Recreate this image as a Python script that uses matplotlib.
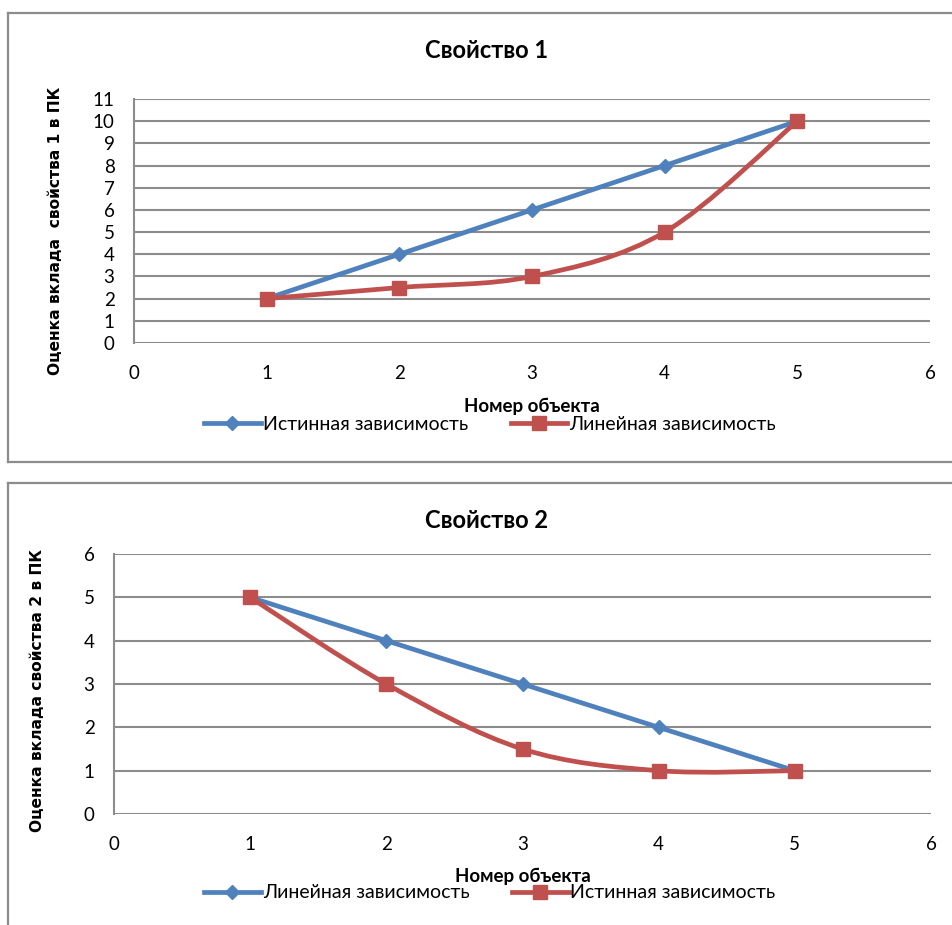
import numpy as np
import matplotlib
matplotlib.use('Agg')
import matplotlib.pyplot as plt
from matplotlib.path import Path
from matplotlib.patches import PathPatch
from matplotlib.lines import Line2D

# data
objects = [1, 2, 3, 4, 5]

title_1 = 'Свойство 1'
ylabel_1 = 'Оценка вклада  свойства 1 в ПК'
true_1 = [2, 4, 6, 8, 10]          # Истинная зависимость (straight)
linear_1 = [2, 2.5, 3, 5, 10]      # Линейная зависимость (smoothed)
names_1 = ['Истинная зависимость', 'Линейная зависимость']

title_2 = 'Свойство 2'
ylabel_2 = 'Оценка вклада свойства 2 в ПК'
linear_2 = [5, 4, 3, 2, 1]         # Линейная зависимость (straight)
true_2 = [5, 3, 1.5, 1, 1]         # Истинная зависимость (smoothed)
names_2 = ['Линейная зависимость', 'Истинная зависимость']

xlabel = 'Номер объекта'

BLUE = '#4F81BD'
RED = '#C0504D'
GRID = '#8C8C8C'
narrow = ['Lato', 'DejaVu Sans']

W, H = 953, 925
fig = plt.figure(figsize=(W / 100, H / 100), dpi=100)


def fx(px):
    return px / W


def fy(py):
    return 1 - py / H


def smooth_path(x, y):
    # Excel-like smoothed line: Catmull-Rom turned into cubic Bezier pieces
    P = np.column_stack([x, y]).astype(float)
    n = len(P)
    verts = [P[0]]
    codes = [Path.MOVETO]
    for i in range(n - 1):
        p_prev = P[i - 1] if i > 0 else P[i]
        p_next = P[i + 2] if i + 2 < n else P[i + 1]
        c1 = P[i] + (P[i + 1] - p_prev) / 6
        c2 = P[i + 1] - (p_next - P[i]) / 6
        verts += [c1, c2, P[i + 1]]
        codes += [Path.CURVE4] * 3
    return Path(verts, codes)


def frame(top, bottom):
    c = dict(color=GRID, lw=1.6, transform=fig.transFigure)
    fig.add_artist(Line2D([fx(8), fx(8)], [fy(top), fy(bottom)], **c))
    fig.add_artist(Line2D([fx(8), 1.01], [fy(top), fy(top)], **c))
    if bottom < H:
        fig.add_artist(Line2D([fx(8), 1.01], [fy(bottom), fy(bottom)], **c))


def chart(box, ymax, straight, smooth, names, title, ylabel,
          title_y, ylab_x, ylab_y, xlab_xy, leg_y):
    x0, x1, ytop, ybot = box
    ax = fig.add_axes([fx(x0), fy(ybot), fx(x1) - fx(x0), fy(ytop) - fy(ybot)])
    ax.set_xlim(0, 6)
    ax.set_ylim(0, ymax)
    ax.set_xticks(range(0, 7))
    ax.set_yticks(range(0, ymax + 1))
    ax.grid(axis='y', color=GRID, lw=1.5)
    ax.set_axisbelow(True)
    for s in ['top', 'right', 'bottom']:
        ax.spines[s].set_visible(False)
    ax.spines['left'].set_color(GRID)
    ax.spines['left'].set_linewidth(1.5)
    ax.tick_params(length=0, labelsize=13.5)
    ax.tick_params(axis='x', pad=16)
    ax.tick_params(axis='y', pad=14)
    for lab in ax.get_xticklabels() + ax.get_yticklabels():
        lab.set_family(narrow)

    ax.plot(objects, straight, color=BLUE, lw=3.4, marker='D', ms=7.5,
            clip_on=False, zorder=3)
    ax.add_patch(PathPatch(smooth_path(objects, smooth), fill=False,
                           edgecolor=RED, lw=3.4, zorder=4, clip_on=False))
    ax.plot(objects, smooth, ls='none', color=RED, marker='s', ms=10,
            clip_on=False, zorder=5)

    fig.text(fx(487), fy(title_y), title, ha='center', va='center',
             fontsize=17, fontweight='bold', family=narrow)
    fig.text(fx(ylab_x), fy(ylab_y), ylabel, rotation=90, ha='center',
             va='center', fontsize=11.2, fontweight='bold', family='DejaVu Sans')
    fig.text(fx(xlab_xy[0]), fy(xlab_xy[1]), xlabel, ha='center', va='center',
             fontsize=13.5, fontweight='bold', family=narrow)

    handles = [Line2D([], [], color=BLUE, lw=3.4, marker='D', ms=7.5),
               Line2D([], [], color=RED, lw=3.4, marker='s', ms=10)]
    fig.legend(handles, names, loc='center', bbox_to_anchor=(fx(490), fy(leg_y)),
               ncol=2, frameon=False, handlelength=2.9, handletextpad=0.1,
               columnspacing=2.2, prop={'family': narrow, 'size': 14})


frame(13, 462)
frame(483, H + 10)

chart((134, 930, 99, 343), 11, true_1, linear_1, names_1, title_1, ylabel_1,
      50, 56, 231, (532, 406), 424)
chart((114, 931, 554, 814), 6, linear_2, true_2, names_2, title_2, ylabel_2,
      520, 38, 690, (523, 876), 893)

fig.savefig('out.png', dpi=100)
